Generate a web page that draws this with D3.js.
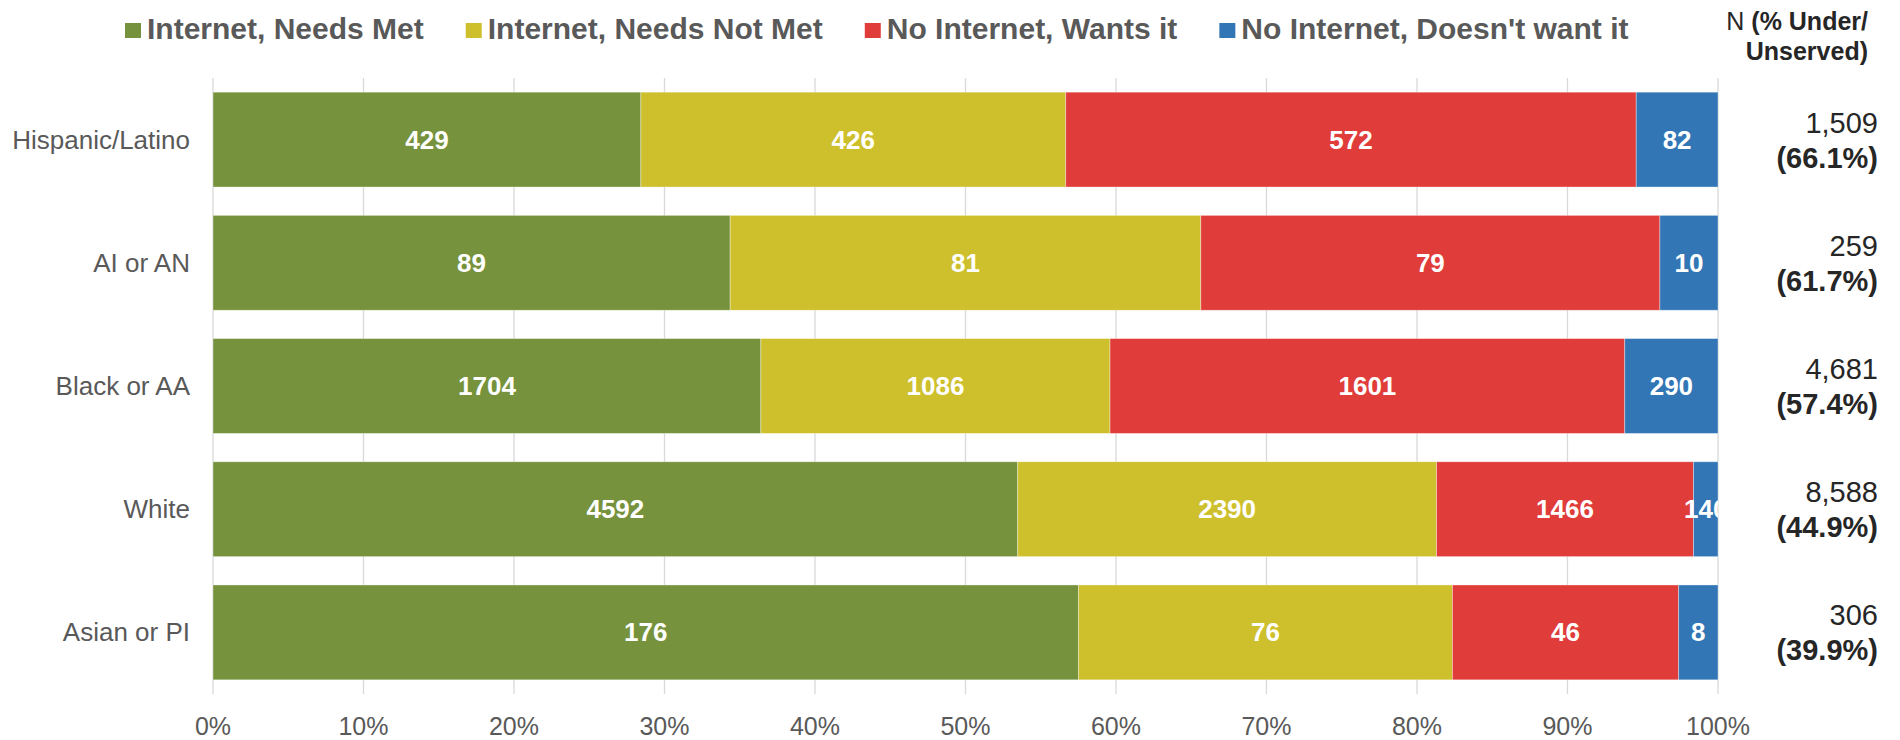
<!DOCTYPE html>
<html>
<head>
<meta charset="utf-8">
<script src="https://cdn.jsdelivr.net/npm/d3@7"></script>
<style>
  body { margin: 0; background: #fff; }
  text { font-family: "Liberation Sans", Arial, sans-serif; }
</style>
</head>
<body>
<script>
// ** Data
var categories = ['Hispanic/Latino', 'AI or AN', 'Black or AA', 'White', 'Asian or PI'];
var seriesNames = ['Internet, Needs Met', 'Internet, Needs Not Met', 'No Internet, Wants it', "No Internet, Doesn't want it"];
var needsMet    = [429, 89, 1704, 4592, 176];
var needsNotMet = [426, 81, 1086, 2390, 76];
var wantsIt     = [572, 79, 1601, 1466, 46];
var doesntWant  = [82, 10, 290, 140, 8];
var totals      = ['1,509', '259', '4,681', '8,588', '306'];
var pctUnder    = ['(66.1%)', '(61.7%)', '(57.4%)', '(44.9%)', '(39.9%)'];
var xTicks      = [0, 0.1, 0.2, 0.3, 0.4, 0.5, 0.6, 0.7, 0.8, 0.9, 1];

var colors = ['#76923c', '#cec02c', '#e03c39', '#3276b5'];
var seriesValues = [needsMet, needsNotMet, wantsIt, doesntWant];

var W = 1900, H = 740;
var plotLeft = 213, plotRight = 1718, plotTop = 78, plotBottom = 694;

var svg = d3.select('body').append('svg')
    .attr('width', W)
    .attr('height', H);

// ** Build stacked rows
var rows = categories.map(function(c, i){
  var row = {cat: c, total: 0};
  seriesValues.forEach(function(s, k){ row['s' + k] = s[i]; row.total += s[i]; });
  return row;
});
var stack = d3.stack()
    .keys(['s0', 's1', 's2', 's3'])
    .value(function(d, key){ return d[key] / d.total; });
var layers = stack(rows);

var x = d3.scaleLinear().domain([0, 1]).range([plotLeft, plotRight]);
var y = d3.scaleBand().domain(categories).range([plotTop, plotBottom])
    .paddingInner(0.23).paddingOuter(0.115);

// ** Gridlines
svg.append('g').selectAll('line')
    .data(xTicks)
  .enter().append('line')
    .attr('x1', function(d){ return x(d); })
    .attr('x2', function(d){ return x(d); })
    .attr('y1', plotTop)
    .attr('y2', plotBottom)
    .attr('stroke', '#d9d9d9')
    .attr('stroke-width', 1.3);

// ** Bars
var layerG = svg.append('g').selectAll('g')
    .data(layers)
  .enter().append('g')
    .attr('fill', function(d, k){ return colors[k]; });

layerG.selectAll('rect')
    .data(function(d){ return d; })
  .enter().append('rect')
    .attr('x', function(d){ return x(d[0]); })
    .attr('width', function(d){ return x(d[1]) - x(d[0]); })
    .attr('y', function(d){ return y(d.data.cat); })
    .attr('height', y.bandwidth())
    .attr('stroke', 'rgba(255,255,255,0.45)')
    .attr('stroke-width', 0.8);

// ** Value labels, clipped at the plot edge
svg.append('clipPath').attr('id', 'plotClip')
  .append('rect')
    .attr('x', plotLeft).attr('y', 0)
    .attr('width', plotRight - plotLeft).attr('height', H);

var labelG = svg.append('g').attr('clip-path', 'url(#plotClip)');
layers.forEach(function(layer, k){
  labelG.selectAll('text.s' + k)
      .data(layer)
    .enter().append('text')
      .attr('class', 's' + k)
      .attr('x', function(d){ return (x(d[0]) + x(d[1])) / 2; })
      .attr('y', function(d){ return y(d.data.cat) + y.bandwidth() / 2 + 9; })
      .attr('text-anchor', 'middle')
      .attr('fill', '#fff')
      .attr('font-weight', 'bold')
      .attr('font-size', '26px')
      .text(function(d){ return d.data['s' + k]; });
});

// ** Category labels
svg.append('g').selectAll('text')
    .data(categories)
  .enter().append('text')
    .attr('x', 190)
    .attr('y', function(d){ return y(d) + y.bandwidth() / 2 + 9; })
    .attr('text-anchor', 'end')
    .attr('fill', '#595959')
    .attr('font-size', '26px')
    .text(function(d){ return d; });

// ** X axis labels
svg.append('g').selectAll('text')
    .data(xTicks)
  .enter().append('text')
    .attr('x', function(d){ return x(d); })
    .attr('y', 735)
    .attr('text-anchor', 'middle')
    .attr('fill', '#595959')
    .attr('font-size', '25px')
    .text(d3.format('.0%'));

// ** Right side N and % labels
var nG = svg.append('g');
nG.selectAll('text.n')
    .data(categories)
  .enter().append('text')
    .attr('class', 'n')
    .attr('x', 1878)
    .attr('y', function(d){ return y(d) + y.bandwidth() / 2 - 7; })
    .attr('text-anchor', 'end')
    .attr('fill', '#262626')
    .attr('font-size', '29px')
    .text(function(d, i){ return totals[i]; });
nG.selectAll('text.p')
    .data(categories)
  .enter().append('text')
    .attr('class', 'p')
    .attr('x', 1878)
    .attr('y', function(d){ return y(d) + y.bandwidth() / 2 + 28; })
    .attr('text-anchor', 'end')
    .attr('fill', '#262626')
    .attr('font-weight', 'bold')
    .attr('font-size', '29px')
    .text(function(d, i){ return pctUnder[i]; });

// ** Header
var h1 = svg.append('text')
    .attr('x', 1868).attr('y', 30)
    .attr('text-anchor', 'end')
    .attr('fill', '#262626')
    .attr('font-size', '25px');
h1.append('tspan').text('N ');
h1.append('tspan').attr('font-weight', 'bold').text('(% Under/');
svg.append('text')
    .attr('x', 1868).attr('y', 60)
    .attr('text-anchor', 'end')
    .attr('fill', '#262626')
    .attr('font-weight', 'bold')
    .attr('font-size', '25px')
    .text('Unserved)');

// ** Legend
var lx = 125;
seriesNames.forEach(function(name, k){
  svg.append('rect')
      .attr('x', lx).attr('y', 23)
      .attr('width', 16).attr('height', 15)
      .attr('fill', colors[k]);
  var t = svg.append('text')
      .attr('x', lx + 22).attr('y', 39)
      .attr('fill', '#595959')
      .attr('font-weight', 'bold')
      .attr('font-size', '30px')
      .text(name);
  lx = lx + 22 + t.node().getComputedTextLength() + 42;
});
</script>
</body>
</html>
